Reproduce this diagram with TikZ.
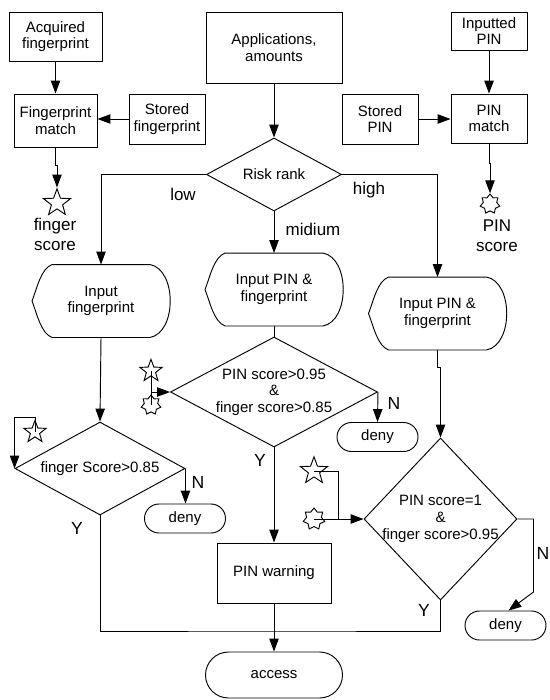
\documentclass[tikz,border=0pt]{standalone}
\usepackage{fontspec}
\setmainfont{Liberation Sans}
\usetikzlibrary{arrows.meta, positioning, calc, shapes.geometric, shapes.misc}

\tikzset{
  txt/.style={font=\fontsize{12.8}{14.2}\selectfont, align=center},
  box/.style={draw, rectangle, txt, inner sep=0pt},
  term/.style={draw, rounded rectangle, txt, inner sep=0pt, minimum width=2.43cm, minimum height=0.87cm},
  disp/.style={txt, inner sep=0pt, minimum width=4.11cm, minimum height=2.16cm},
  decide/.style={draw, diamond, inner sep=0pt, label={[txt]center:{#1}}},
  lbl/.style={font=\fontsize{14.5}{17}\selectfont, align=center, inner sep=0pt},
  yn/.style={font=\fontsize{15}{18}\selectfont, inner sep=0pt},
  bigstar/.style={draw, star, star points=5, star point ratio=2.4, minimum size=0.85cm, inner sep=0pt},
  smallstar/.style={draw, star, star points=7, star point ratio=1.45, minimum size=0.66cm, inner sep=0pt},
  arr/.style={-{Triangle[length=11pt,width=8pt]}}
}

% outline of a display symbol round a node
\newcommand{\dispframe}[1]{%
  \draw ($(#1.north west)+(20,0)$) -- ($(#1.north east)+(-20,0)$)
    .. controls ($(#1.north east)+(7,5)$) and ($(#1.south east)+(7,-5)$) .. ($(#1.south east)+(-20,0)$)
    -- ($(#1.south west)+(20,0)$)
    .. controls ($(#1.south west)+(9,-4)$) and ($(#1.west)+(5,13)$) .. (#1.west)
    .. controls ($(#1.west)+(5,-13)$) and ($(#1.north west)+(9,4)$) .. cycle;}

\begin{document}
\begin{tikzpicture}[x=0.03cm, y=-0.03cm, line width=0.8pt]
  \useasboundingbox (0,0) rectangle (549,700);

  % fingerprint matching
  \node[box, minimum width=2.79cm, minimum height=1.47cm] (acq) at (55.5,36.5) {Acquired\\fingerprint};
  \node[box, minimum width=2.49cm, minimum height=1.59cm] (fpm) at (55.5,120.5) {Fingerprint\\match};
  \node[box, minimum width=2.28cm, minimum height=1.5cm] (sfp) at (167,119) {Stored\\fingerprint};
  \node[bigstar] (fstar) at (57,203) {};
  \node[lbl] (fscore) at (55,234) {finger\\score};

  % PIN matching
  \node[box, minimum width=2.28cm, minimum height=1.14cm] (inpin) at (489,31) {Inputted\\PIN};
  \node[box, minimum width=2.28cm, minimum height=1.47cm] (pinm) at (489,118.5) {PIN\\match};
  \node[box, minimum width=2.28cm, minimum height=1.5cm] (spin) at (380,119) {Stored\\PIN};
  \node[smallstar, minimum size=0.6cm] (pstar) at (490,204) {};
  \node[lbl] (pscore) at (497,236) {PIN\\score};

  % main flow
  \node[box, minimum width=4.08cm, minimum height=2.13cm] (app) at (274,47.5) {Applications,\\amounts};
  \node[decide={Risk rank}, minimum width=4.05cm, minimum height=2.19cm] (risk) at (274,174.5) {};
  \node[disp] (dispa) at (101,301) {Input\\fingerprint};
  \node[disp] (dispm) at (274,289.5) {Input PIN \&\\fingerprint};
  \node[disp] (dispr) at (437.5,313.5) {Input PIN \&\\fingerprint};
  \foreach \d in {dispa,dispm,dispr} {\dispframe{\d}}

  \node[decide={finger Score>0.85}, minimum width=5.1cm, minimum height=2.79cm] (ldec) at (100,468.5) {};
  \node[decide={PIN score>0.95\\\&\\finger score>0.85}, minimum width=6.21cm, minimum height=3.3cm] (mdec) at (274,392) {};
  \node[decide={PIN score=1\\\&\\finger score>0.95}, minimum width=4.59cm, minimum height=4.86cm] (rdec) at (440.5,519) {};

  \node[term] (ldeny) at (185,518.5) {deny};
  \node[term] (mdeny) at (377.5,437) {deny};
  \node[term] (rdeny) at (505.5,625.5) {deny};
  \node[box, minimum width=3.42cm, minimum height=1.8cm] (pwarn) at (274,573) {PIN warning};
  \node[term, minimum width=4.11cm, minimum height=1.38cm] (access) at (274,675) {access};

  % score stars at the checks
  \node[bigstar, minimum size=0.7cm] (ls5) at (35,432) {};
  \node[bigstar, minimum size=0.7cm] (ms5) at (151,371) {};
  \node[smallstar, minimum size=0.6cm] (ms7) at (151,405) {};
  \node[bigstar] (rs5) at (314,471) {};
  \node[smallstar] (rs7) at (314,519) {};

  % connectors
  \draw[arr] (acq) -- (fpm);
  \draw[arr] (sfp.west) -- (sfp.west -| fpm.east);
  \draw[arr] (fpm.south) -- ++(0,18) -| (fstar.north);
  \draw[arr] (inpin) -- (pinm);
  \draw[arr] (spin.east) -- (spin.east -| pinm.west);
  \draw[arr] (pinm.south) -- ++(0,20) -| (pstar.north);

  \draw[arr] (app) -- (risk);
  \draw[arr] (risk.west) -| (dispa.north);
  \draw[arr] (risk.south) -- (dispm.north);
  \draw[arr] (risk.east) -| (dispr.north);
  \node[lbl] (low) at (183,194) {low};
  \node[lbl] (mid) at (313,229) {midium};
  \node[lbl] (high) at (369,190) {high};

  \draw[arr] (dispa.south) -- (ldec.north);
  \draw (dispm.south) -- (mdec.north);
  \draw[arr] (dispr.south) -- ++(0,17) -| (rdec.north);

  \draw[arr] (ls5.center) |- ($(ldec.west)+(0,-51)$) -- (ldec.west);
  \draw (ms5.center) -- (ms7.center);
  \draw[arr] (ms5.center |- mdec.west) -- (mdec.west);
  \draw[arr] (rs7.center) -- (rdec.west);
  \draw (rs5.center) -| ($(rs7.center)!0.5!(rdec.west)$);

  \draw[arr] (ldec.east) -- (ldec.east |- ldeny.north);
  \draw[arr] (mdec.east) -- (mdeny.north);
  \draw[arr] (rdec.east) -- ++(16,0) -- ++(0,73) -- ($(rdeny.north)+(3,0)$);
  \draw[arr] (mdec.south) -- (pwarn.north);
  \draw[arr] (pwarn.south) -- (access.north);

  \coordinate (jn) at (274,631);
  \draw (ldec.south) |- (jn) -| (rdec.south);

  \node[yn] (lN) at (198,482) {N};
  \node[yn] (lY) at (77,528) {Y};
  \node[yn] (mN) at (394,403) {N};
  \node[yn] (mY) at (260,460) {Y};
  \node[yn] (rN) at (543,553) {N};
  \node[yn] (rY) at (424,610) {Y};
\end{tikzpicture}
\end{document}
